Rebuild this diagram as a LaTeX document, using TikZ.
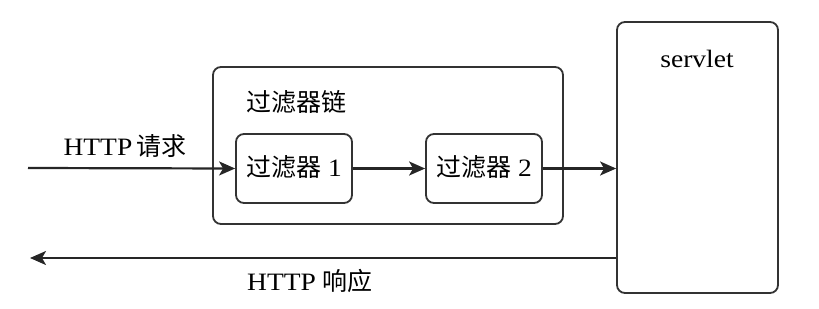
\documentclass[tikz,border=0pt]{standalone}
\usepackage{fontspec}
\setmainfont{Liberation Serif}[FakeStretch=1.1]
\newfontfamily\cjk{Noto Sans CJK SC}
\usetikzlibrary{arrows.meta}
\begin{document}
\begin{tikzpicture}[x=1pt,y=-1pt,
  box/.style={draw=black!80, line width=1.8pt, rounded corners=8pt, inner sep=0pt},
  lbl/.style={inner sep=0pt, font=\fontsize{25}{28}\selectfont},
  conn/.style={draw=black!85, line width=2.2pt, -{Stealth[length=16pt,width=14pt,inset=4pt]}}]
\useasboundingbox (0,0) rectangle (819,308);
\node[box, minimum width=350pt, minimum height=157pt] (chain) at (388,145.5) {};
\node[box, minimum width=116pt, minimum height=69pt] (f1) at (294,168.5) {};
\node[box, minimum width=116pt, minimum height=69pt] (f2) at (484,168.5) {};
\node[box, minimum width=161pt, minimum height=271pt] (srv) at (697.5,157.5) {};
\node[lbl] (t1) at (294,167) {{\cjk 过滤器} 1};
\node[lbl] (t2) at (484,167) {{\cjk 过滤器} 2};
\node[lbl] (tc) at (296,102) {\cjk 过滤器链};
\node[lbl] (ts) at (697,59) {servlet};
\node[lbl] (req) at (125,146) {HTTP\,{\cjk 请求}};
\node[lbl] (resp) at (310,281) {HTTP {\cjk 响应}};
\coordinate (in) at (28,168);
\coordinate (out) at (30,258);
\draw[conn] (in) -- (f1.west);
\draw[conn] (f1.east) -- (f2.west);
\draw[conn] (f2.east) -- (f2.east -| srv.west);
\draw[conn] (srv.west |- out) -- (out);
\end{tikzpicture}
\end{document}
